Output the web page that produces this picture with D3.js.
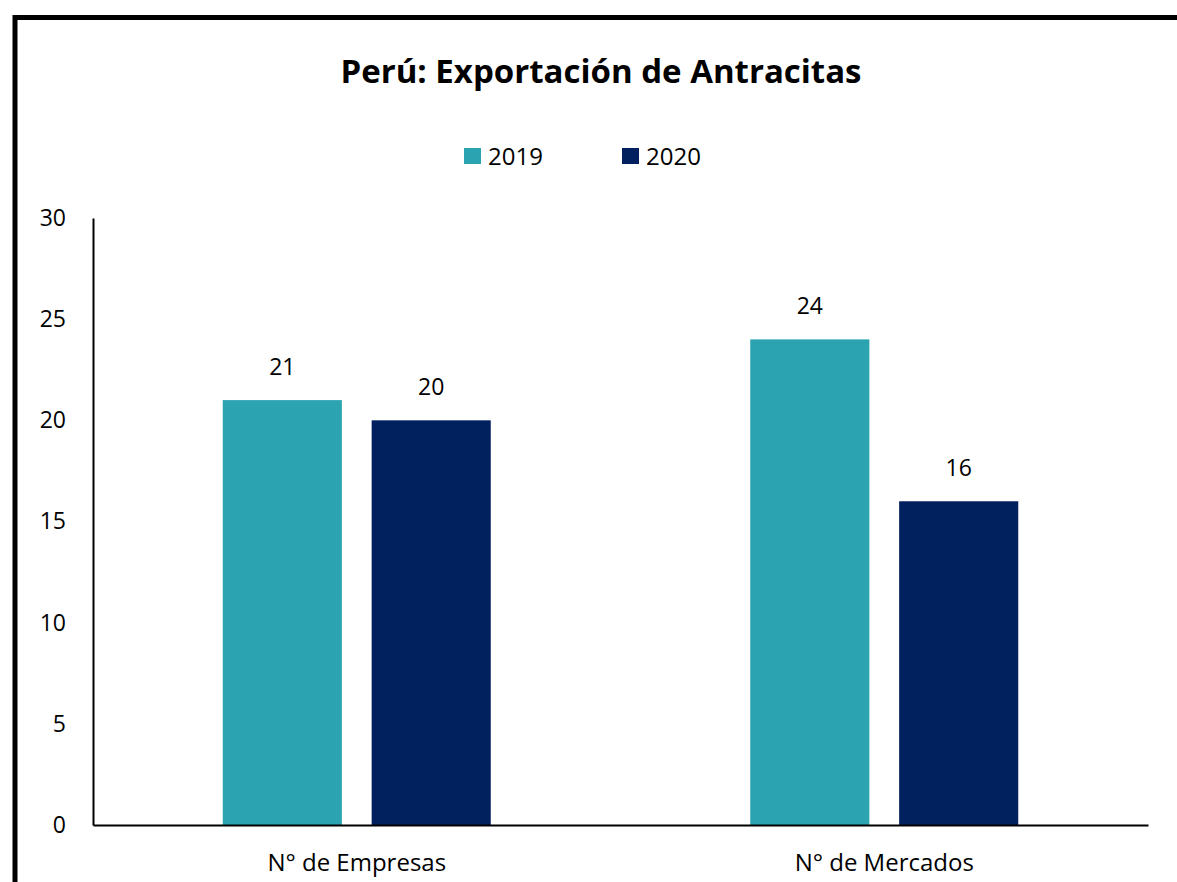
<!DOCTYPE html>
<html>
<head>
<meta charset="utf-8">
<script src="https://cdn.jsdelivr.net/npm/d3@7"></script>
<style>
  body { margin: 0; background: #fff; }
  svg { display: block; font-family: "Open Sans", "Noto Sans", sans-serif; }
</style>
</head>
<body>
<svg id="chart" width="1177" height="882"></svg>
<script>
const categories = ["N° de Empresas", "N° de Mercados"];
const seriesNames = ["2019", "2020"];
const values2019 = [21, 24];
const values2020 = [20, 16];
const yTicks = [0, 5, 10, 15, 20, 25, 30];
const colors = ["#2BA3B1", "#00215E"];

const svg = d3.select("#chart");
const width = 1177, height = 882;
const margin = { left: 93, right: 29, top: 218, bottom: 57 };
const font = "'Open Sans', 'Noto Sans', sans-serif";

// outer frame, runs off the right and bottom edge
svg.append("rect")
    .attr("x", 15).attr("y", 17.5)
    .attr("width", 1300).attr("height", 1000)
    .attr("fill", "none")
    .attr("stroke", "#000")
    .attr("stroke-width", 5);

svg.append("text")
    .attr("x", 601).attr("y", 83)
    .attr("text-anchor", "middle")
    .attr("font-size", 33)
    .attr("font-weight", "bold")
    .text("Perú: Exportación de Antracitas");

const x0 = d3.scaleBand()
    .domain(categories)
    .range([margin.left, width - margin.right]);

const x1 = d3.scaleBand()
    .domain(seriesNames)
    .range([0, 268])
    .paddingInner(0.2);

const y = d3.scaleLinear()
    .domain([0, 30])
    .range([height - margin.bottom, margin.top]);

const data = categories.map((c, i) => ({
    cat: c,
    vals: [
        { s: "2019", v: values2019[i] },
        { s: "2020", v: values2020[i] }
    ]
}));

const groups = svg.selectAll("g.grp")
    .data(data)
    .enter()
    .append("g")
    .attr("class", "grp")
    .attr("transform", d => `translate(${x0(d.cat) + (x0.bandwidth() - 268) / 2},0)`);

groups.selectAll("rect")
    .data(d => d.vals)
    .enter()
    .append("rect")
    .attr("x", d => x1(d.s))
    .attr("y", d => y(d.v))
    .attr("width", x1.bandwidth())
    .attr("height", d => y(0) - y(d.v))
    .attr("fill", (d, i) => colors[i]);

groups.selectAll("text.val")
    .data(d => d.vals)
    .enter()
    .append("text")
    .attr("class", "val")
    .attr("x", d => x1(d.s) + x1.bandwidth() / 2)
    .attr("y", d => y(d.v) - 25)
    .attr("text-anchor", "middle")
    .attr("font-size", 23)
    .text(d => d.v);

// y axis
const yAxis = svg.append("g")
    .attr("transform", `translate(${margin.left},0)`)
    .call(d3.axisLeft(y).tickValues(yTicks).tickSize(0).tickPadding(27));
yAxis.select(".domain").attr("stroke", "#000").attr("stroke-width", 2);
yAxis.selectAll("text").attr("font-size", 23).attr("fill", "#000")
    .attr("font-family", font);

// x axis
const xAxis = svg.append("g")
    .attr("transform", `translate(0,${y(0)})`)
    .call(d3.axisBottom(x0).tickSize(0).tickPadding(29));
xAxis.select(".domain").attr("stroke", "#000").attr("stroke-width", 2);
xAxis.selectAll("text").attr("font-size", 24).attr("fill", "#000")
    .attr("font-family", font);

// legend
const legendX = [464, 622];
const legend = svg.selectAll("g.leg")
    .data(seriesNames)
    .enter()
    .append("g")
    .attr("class", "leg")
    .attr("transform", (d, i) => `translate(${legendX[i]},148)`);
legend.append("rect")
    .attr("width", 17).attr("height", 16)
    .attr("fill", (d, i) => colors[i]);
legend.append("text")
    .attr("x", 24).attr("y", 17)
    .attr("font-size", 24)
    .text(d => d);
</script>
</body>
</html>
